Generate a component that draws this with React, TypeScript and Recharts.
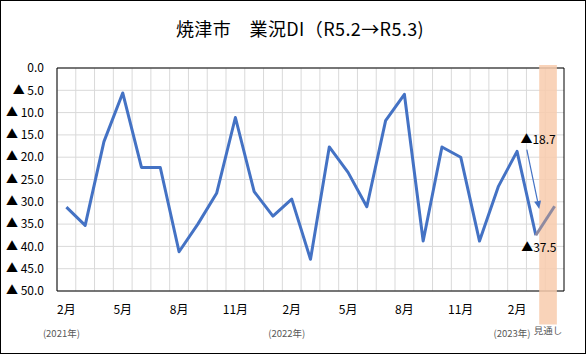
import {
  LineChart,
  Line,
  XAxis,
  YAxis,
  CartesianGrid,
  ReferenceArea,
  ReferenceDot,
  ReferenceLine,
} from "recharts";

// Feb 2021 .. Apr 2023 (last point is the outlook)
const months = [
  "2月", "3月", "4月", "5月", "6月", "7月", "8月", "9月", "10月", "11月", "12月",
  "1月", "2月", "3月", "4月", "5月", "6月", "7月", "8月", "9月", "10月", "11月", "12月",
  "1月", "2月", "3月", "4月",
];

// ▲ = minus
const actual = [
  -31.2, -35.3, -16.5, -5.6, -22.3, -22.3, -41.2, -35.0, -28.1, -11.1, -27.7,
  -33.2, -29.4, -42.9, -17.7, -23.4, -31.1, -11.8, -5.9, -38.8, -17.7, -20.0, -38.8,
  -26.6, -18.7, -37.5, null,
];

const outlook = [
  null, null, null, null, null, null, null, null, null, null, null,
  null, null, null, null, null, null, null, null, null, null, null, null,
  null, null, -37.5, -31.0,
];

const monthTicks = [0, 3, 6, 9, 12, 15, 18, 21, 24];
const yearTicks = [0, 12, 24];
const yearLabels = ["(2021年)", "(2022年)", "(2023年)"];
const yTicks = [0, -5, -10, -15, -20, -25, -30, -35, -40, -45, -50];

const data = months.map((m, i) => ({ i, m, actual: actual[i], outlook: outlook[i] }));

const FONT = "'Noto Sans CJK JP', 'Noto Sans', sans-serif";
const BLUE = "#4472c4";

const fmtY = (v: number) => (v === 0 ? "0.0" : `▲ ${Math.abs(v).toFixed(1)}`);

function MonthTick({ x, y, payload }: any) {
  const i = payload.value;
  const yi = yearTicks.indexOf(i);
  return (
    <g fontFamily={FONT}>
      <text x={x} y={y + 23} textAnchor="middle" fontSize={12} fill="#000">
        {months[i]}
      </text>
      {yi >= 0 && (
        <text x={x - 5} y={y + 46} textAnchor="middle" fontSize={9.5} fill="#595959">
          {yearLabels[yi]}
        </text>
      )}
    </g>
  );
}

const valueText = (txt: string, dx: number, dy: number) => (props: any) => (
  <text
    x={props.cx + dx}
    y={props.cy + dy}
    textAnchor="middle"
    fontSize={12}
    fontFamily={FONT}
    fill="#000"
  >
    {txt}
  </text>
);

function Arrow(props: any) {
  const { x1, y1, x2, y2 } = props;
  const a = Math.atan2(y2 - y1, x2 - x1);
  const len = 8;
  const w = 3.5;
  const bx = x2 - len * Math.cos(a);
  const by = y2 - len * Math.sin(a);
  const px = -Math.sin(a) * w;
  const py = Math.cos(a) * w;
  return (
    <g>
      <line x1={x1} y1={y1} x2={bx} y2={by} stroke={BLUE} strokeWidth={1.2} />
      <polygon points={`${x2},${y2} ${bx + px},${by + py} ${bx - px},${by - py}`} fill={BLUE} />
    </g>
  );
}

export default function App() {
  return (
    <div style={{ position: "absolute", left: 0, top: 0, width: 586, height: 354, background: "#fff" }}>
      <div
        style={{
          position: "absolute",
          top: 17,
          left: 7,
          width: 586,
          textAlign: "center",
          fontFamily: FONT,
          fontSize: 18,
          letterSpacing: 0.4,
          lineHeight: "22px",
          color: "#000",
          whiteSpace: "pre",
        }}
      >
        焼津市　業況DI（R5.2→R5.3)
      </div>
      <LineChart
        width={586}
        height={354}
        data={data}
        margin={{ top: 68, right: 22, bottom: 23, left: 7 }}
        style={{ position: "absolute", left: 0, top: 0 }}
      >
        <CartesianGrid
          stroke="#d9d9d9"
          verticalCoordinatesGenerator={({ offset }: any) =>
            months.map((_, k) => offset.left + (offset.width * k) / months.length)
          }
        />
        <ReferenceArea x1={-0.5} x2={26.5} y1={0} y2={-50} fill="none" stroke="#000" strokeWidth={1} />
        <ReferenceArea
          x1={25.18}
          x2={26.12}
          y1={0.7}
          y2={-57.5}
          ifOverflow="visible"
          fill="#f8cbad"
          fillOpacity={0.85}
          stroke="none"
          label={{ value: "見通し", position: "bottom", offset: 3, fontSize: 9.5, fill: "#595959", fontFamily: FONT }}
        />
        <XAxis
          type="number"
          dataKey="i"
          domain={[-0.5, 26.5]}
          ticks={monthTicks}
          tick={<MonthTick />}
          tickLine={false}
          axisLine={false}
          tickSize={0}
          tickMargin={0}
          height={40}
          interval={0}
        />
        <YAxis
          domain={[-50, 0]}
          ticks={yTicks}
          tickFormatter={fmtY}
          tick={{ fontSize: 12, fill: "#000", fontFamily: FONT }}
          tickLine={false}
          axisLine={false}
          tickSize={0}
          tickMargin={13}
          width={50}
          interval={0}
        />
        <Line
          dataKey="actual"
          stroke={BLUE}
          strokeWidth={3}
          strokeLinejoin="round"
          dot={false}
          activeDot={false}
          isAnimationActive={false}
        />
        <Line
          dataKey="outlook"
          stroke="#8f8aa0"
          strokeWidth={3}
          dot={false}
          activeDot={false}
          isAnimationActive={false}
        />
        <ReferenceLine
          segment={[
            { x: 24.52, y: -18.3 },
            { x: 25.18, y: -31.6 },
          ]}
          shape={<Arrow />}
        />
        <ReferenceDot x={24} y={-18.7} r={0} shape={valueText("▲18.7", 21, -7)} />
        <ReferenceDot x={25} y={-37.5} r={0} shape={valueText("▲37.5", 3, 17)} />
      </LineChart>
      <div
        style={{
          position: "absolute",
          left: 0,
          top: 0,
          width: 586,
          height: 354,
          boxSizing: "border-box",
          border: "1px solid #000",
          pointerEvents: "none",
        }}
      />
    </div>
  );
}
